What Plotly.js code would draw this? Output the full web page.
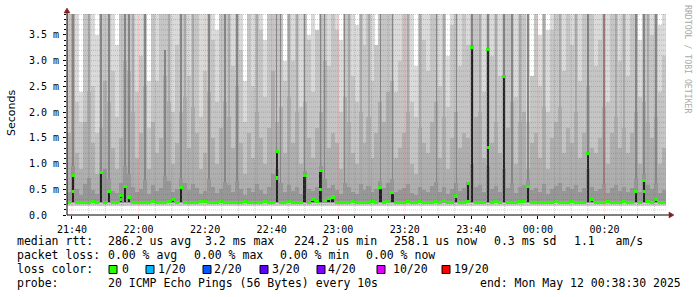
<!DOCTYPE html>
<html><head><meta charset="utf-8">
<script src="https://cdn.plot.ly/plotly-3.0.1.min.js"></script>
<style>html,body{margin:0;padding:0;background:#fff;}#chart{width:697px;height:297px;}</style>
</head><body><div id="chart"></div>
<script>
// ---- data (RTT values in ms, 150 bins of 72 s from 21:38:30 to 00:38:30) ----
const START = Date.UTC(2025,4,11,21,38,30);
const END = Date.UTC(2025,4,12,0,38,30);
const STEP = 72000;
const F = 4.0; // smoke beyond top of graph

const medianRtt = [
0.25,0.76,0.25,0.24,0.25,0.25,0.26,0.25,0.82,0.25,
0.45,0.25,0.24,0.38,0.55,0.35,0.25,0.25,0.24,0.25,
0.25,0.26,0.25,0.24,0.25,0.26,0.30,0.25,0.53,0.25,
0.25,0.24,0.25,0.26,0.27,0.25,0.24,0.25,0.26,0.25,
0.25,0.24,0.25,0.25,0.26,0.25,0.24,0.25,0.25,0.26,
0.25,0.24,1.23,0.25,0.25,0.26,0.25,0.24,0.25,0.77,
0.25,0.30,0.26,0.86,0.28,0.32,0.35,0.25,0.25,0.24,
0.25,0.26,0.25,0.25,0.24,0.25,0.26,0.25,0.53,0.25,
0.26,0.43,0.25,0.24,0.25,0.27,0.25,0.24,0.26,0.25,
0.25,0.24,0.26,0.25,0.28,0.25,0.24,0.37,0.25,0.25,
0.26,3.25,0.25,0.24,0.25,3.21,0.25,0.26,0.25,2.70,
0.25,0.24,0.25,0.26,0.27,0.55,0.25,0.24,0.25,0.25,
0.24,0.25,0.26,0.25,0.24,0.25,0.26,0.25,0.25,0.24,
1.19,0.30,0.25,0.24,0.25,0.26,0.25,0.24,0.25,0.26,
0.25,0.24,0.45,0.25,0.67,0.26,0.25,0.30,0.24,0.25];

const altIdx = [1, 13, 52, 63, 100, 105, 144];
const altVal = [0.45, 0.30, 0.72, 0.50, 0.62, 1.31, 0.45];

const smokeTop = [
F,F,F,2.4,F,F,F,3.5,F,F,
F,F,3.3,F,F,F,F,F,F,F,
2.6,F,F,F,F,F,F,F,F,F,
F,F,F,F,F,F,F,3.6,F,F,
F,F,F,F,2.6,F,F,F,F,3.4,
F,F,F,F,3.0,F,F,F,F,F,
3.5,F,3.6,F,F,F,F,F,3.4,F,
F,F,3.7,F,F,F,F,3.3,F,F,
F,F,F,F,F,F,F,2.9,F,F,
F,F,F,F,F,3.1,F,F,F,F,
F,F,F,F,F,F,F,F,F,F,
F,F,F,F,F,F,2.7,F,3.5,F,
3.6,F,F,F,F,F,F,F,F,F,
F,F,F,F,F,F,F,F,F,F,
F,F,F,3.4,F,F,F,F,3.7,F];

const smokeUpper = [
3.9,3.0,2.2,1.8,3.9,3.9,2.5,1.6,3.9,3.9,
3.9,2.8,1.9,3.9,3.9,3.9,3.9,2.4,3.1,3.9,
1.7,3.9,2.6,3.9,3.9,3.9,2.0,3.3,3.9,3.9,
2.7,3.9,3.9,1.9,2.8,3.9,3.4,2.2,3.9,3.9,
3.9,2.9,3.9,3.2,1.8,3.9,2.5,3.9,3.6,2.3,
3.9,3.9,3.9,3.9,2.6,3.9,3.0,3.9,2.1,3.9,
3.4,2.4,3.9,3.9,3.9,2.9,3.9,3.6,2.0,3.9,
3.9,2.7,2.2,3.9,3.3,3.9,2.6,3.9,3.9,3.9,
3.9,3.9,2.4,3.0,3.9,3.9,2.2,1.9,3.9,3.4,
2.8,3.9,3.9,2.5,3.9,2.1,3.7,3.9,2.9,3.9,
3.3,3.9,3.9,3.9,2.4,3.9,3.1,3.9,2.7,3.9,
3.9,3.9,2.3,3.9,3.9,1.8,3.2,3.9,2.5,3.9,
2.0,3.6,3.9,3.9,2.8,3.9,3.3,3.9,2.6,3.9,
3.9,3.9,2.9,3.4,3.9,2.2,3.9,3.9,3.0,3.9,
2.7,3.9,3.9,2.3,3.9,3.9,3.5,3.9,2.4,3.1];

const smokeLower = [
1.6,3.9,1.2,0.9,1.8,2.4,1.4,0.8,1.7,2.6,
2.2,1.3,0.9,1.5,3.0,2.8,2.0,1.1,1.6,2.5,
0.9,1.8,1.2,1.5,2.7,2.2,1.0,1.4,2.0,2.3,
1.3,2.1,1.6,0.9,1.2,2.4,1.5,1.0,1.7,2.2,
1.9,1.3,2.5,1.4,0.8,1.6,1.1,2.0,1.5,1.0,
1.7,2.8,1.8,2.1,1.2,2.3,1.4,2.0,1.0,2.2,
1.5,1.1,1.7,2.0,3.0,1.3,1.6,1.4,0.9,2.3,
1.8,1.2,1.0,2.0,1.4,1.9,1.1,1.6,2.2,1.8,
2.4,2.6,1.1,1.3,1.6,2.0,1.0,0.8,1.7,1.4,
1.2,1.8,2.2,1.1,1.9,0.9,1.5,2.0,1.3,1.6,
1.5,3.3,1.9,2.0,1.1,3.2,1.4,1.8,1.2,2.7,
1.7,2.2,1.0,1.8,2.0,0.9,1.4,1.6,1.1,2.1,
0.9,1.5,1.8,2.1,1.2,1.7,1.4,2.0,1.1,1.6,
2.5,1.3,1.2,1.5,2.1,1.0,1.6,1.9,1.3,1.7,
1.2,1.6,2.0,1.0,2.2,1.8,1.5,1.9,1.0,1.3];

const smokeCore = [
0.45,0.95,0.50,0.38,0.60,0.72,0.48,0.40,0.85,0.90,
0.70,0.46,0.42,0.62,0.95,0.80,0.55,0.44,0.50,0.68,
0.40,0.58,0.47,0.52,0.75,0.66,0.45,0.50,0.70,0.62,
0.48,0.60,0.52,0.40,0.46,0.70,0.55,0.42,0.50,0.64,
0.58,0.45,0.66,0.50,0.38,0.52,0.44,0.60,0.48,0.40,
0.55,0.80,0.90,0.62,0.45,0.58,0.47,0.55,0.40,0.85,
0.50,0.46,0.55,0.95,0.70,0.52,0.58,0.48,0.40,0.62,
0.55,0.45,0.40,0.60,0.48,0.56,0.44,0.50,0.66,0.52,
0.62,0.70,0.44,0.48,0.52,0.60,0.42,0.38,0.55,0.48,
0.45,0.56,0.64,0.44,0.55,0.40,0.50,0.62,0.46,0.52,
0.65,1.00,0.55,0.58,0.44,0.95,0.50,0.56,0.45,0.90,
0.52,0.62,0.42,0.54,0.58,0.68,0.48,0.52,0.44,0.60,
0.40,0.50,0.56,0.62,0.46,0.54,0.50,0.58,0.44,0.52,
0.90,0.55,0.46,0.50,0.60,0.42,0.52,0.58,0.46,0.54,
0.45,0.52,0.70,0.44,0.80,0.58,0.50,0.62,0.42,0.48];

const darkStreakIdx = [1,8,10,14,15,19,24,28,35,39,42,52,53,59,63,64,69,78,81,92,97,101,105,109,111,115,130,134,142,144,147];
const darkStreakTop = [F,F,F,F,F,F,3.2,F,F,F,F,F,F,F,F,F,F,F,F,F,F,F,F,F,F,F,F,F,F,F,F];
const medStreakIdx = [5,16,25,29,31,40,47,55,57,70,73,75,85,88,94,103,107,113,119,123,127,137,139,145];
const medStreakTop = [F,F,F,F,F,F,F,F,F,F,F,F,F,F,F,F,F,F,F,F,F,F,F,F];
const minRtt = 0.17;

const yTickVals = [0,0.5,1.0,1.5,2.0,2.5,3.0,3.5];
const yTickText = ['0.0\u00a0\u00a0','0.5 m','1.0 m','1.5 m','2.0 m','2.5 m','3.0 m','3.5 m'];

const rttStats = ['286.2 us avg','3.2 ms max','224.2 us min','258.1 us now','0.3 ms sd','1.1   am/s'];
const lossStats = ['0.00 % avg','0.00 % max','0.00 % min','0.00 % now'];
const lossLabels = ['0','1/20','2/20','3/20','4/20','10/20','19/20'];
const lossColors = ['#26ff00','#00b8ff','#0059ff','#5e00ff','#7e00ff','#dd00ff','#ff0000'];
const probeText = '20 ICMP Echo Pings (56 Bytes) every 10s';
const endText = 'end: Mon May 12 00:38:30 2025';

// ---- build ----
const xs = medianRtt.map((_, i) => START + (i + 0.5) * STEP);
const traces = [];
function layer(idx, base, tops, color, width) {
  traces.push({type:'bar', x: idx.map(i => xs[i]), base: idx.map(() => base),
    y: tops.map(t => Math.max(0, t - base)), width: width,
    marker:{color: color, line:{width:0}}, hoverinfo:'skip', showlegend:false});
}
const all = medianRtt.map((_, i) => i);
layer(all, minRtt, smokeTop, '#dadada', STEP + 400);
layer(all, minRtt, all.map(i => Math.min(smokeUpper[i], smokeTop[i])), '#c5c5c5', STEP + 400);
layer(all, minRtt, all.map(i => Math.min(smokeLower[i], smokeTop[i])), '#afafaf', STEP + 400);
layer(medStreakIdx, 0.22, medStreakTop, '#a9a9a9', 36000);
layer(darkStreakIdx, 0.22, darkStreakTop, '#868686', 30000);
layer(all, 0.22, smokeCore, '#979797', STEP + 400);
layer(all, minRtt, all.map(() => 0.23), '#cdcdcd', STEP + 400);

// black columns below spikes
const blackIdx = [], blackTop = [];
all.forEach(i => {
  let t = medianRtt[i];
  const k = altIdx.indexOf(i);
  if (k >= 0) t = Math.max(t, altVal[k]);
  if (t > 0.29) { blackIdx.push(i); blackTop.push(t); }
});
layer(blackIdx, 0.25, blackTop, '#222222', 40000);

// green median marks
traces.push({type:'bar', x: xs, base: medianRtt.map(v => v - 0.03), y: medianRtt.map(() => 0.06),
  width: STEP + 400, marker:{color:'#26ff00', line:{width:0}}, hoverinfo:'skip', showlegend:false});
traces.push({type:'bar', x: altIdx.map(i => xs[i]), base: altVal.map(v => v - 0.03), y: altVal.map(() => 0.06),
  width: 40000, marker:{color:'#26ff00', line:{width:0}}, hoverinfo:'skip', showlegend:false});

// ---- layout helpers ----
const L = 67, R = 666, T = 14, B = 215, W = 697, H = 297;
const px = x => (x - L) / (R - L);
const py = y => (B - y) / (B - T);
const YMAX = 3.908;
const MAJ_H = 'rgba(255,40,40,0.32)', MAJ_V = 'rgba(255,40,40,0.2)', MIN = 'rgba(110,110,110,0.33)';
const shapes = [];
for (let k = 1; k * 0.1 < YMAX; k++) {
  const v = k / 10;
  const major = k % 5 === 0;
  shapes.push({type:'line', xref:'paper', yref:'y', x0:0, x1:1, y0:v, y1:v, layer:'above',
    line:{color: major ? MAJ_H : MIN, width:1, dash:'1px,1px'}});
}
const firstTick = Date.UTC(2025,4,11,21,40,0);
for (let t = firstTick; t < END; t += 300000) {
  const major = ((t - firstTick) % 1200000) === 0;
  shapes.push({type:'line', xref:'x', yref:'paper', x0:t, x1:t, y0:0, y1:1, layer:'above',
    line:{color: major ? MAJ_V : MIN, width:1, dash:'1px,1px'}});
}
shapes.push({type:'line', xref:'paper', yref:'paper', x0:px(67), x1:px(669), y0:0, y1:0, layer:'above', line:{color:'#000', width:1}});
shapes.push({type:'line', xref:'paper', yref:'paper', x0:0, x1:0, y0:0, y1:py(12), layer:'above', line:{color:'#000', width:1}});
shapes.push({type:'path', xref:'paper', yref:'paper', layer:'above',
  path:`M ${px(64)} ${py(13)} L ${px(67)} ${py(8)} L ${px(70)} ${py(13)} Z`, fillcolor:'#7f1f1f', line:{color:'#7f1f1f', width:0.5}});
shapes.push({type:'path', xref:'paper', yref:'paper', layer:'above',
  path:`M ${px(669)} ${py(212)} L ${px(674)} ${py(215)} L ${px(669)} ${py(218)} Z`, fillcolor:'#7f1f1f', line:{color:'#7f1f1f', width:0.5}});

const annotations = [];
const MONO = 'DejaVu Sans Mono';
function txt(s, x, y, size) {
  annotations.push({text: s.replace(/ /g, '\u00a0'), xref:'paper', yref:'paper', x: px(x), y: py(y),
    xanchor:'left', yanchor:'middle', showarrow:false, borderpad:0,
    font:{family: MONO, size: size, color:'#000'}});
}
const FS = 11.5;
txt('median rtt:', 16, 241, FS);
[107.3, 204, 293.3, 393.3, 493.3, 573.3].forEach((x, i) => txt(rttStats[i], x, 241, FS));
txt('packet loss:', 16, 255, FS);
[107.3, 193.3, 279.3, 365].forEach((x, i) => txt(lossStats[i], x, 255, FS));
txt('loss color:', 16, 269, FS);
const boxX = [109, 146, 203, 260, 317, 377, 442];
const labX = [121, 157, 213.3, 270.7, 327.3, 391.7, 453.3];
lossLabels.forEach((lab, i) => {
  shapes.push({type:'rect', xref:'paper', yref:'paper', x0:px(boxX[i]), x1:px(boxX[i] + 8), y0:py(273.5), y1:py(265.5),
    fillcolor: lossColors[i], line:{color:'#000', width:1}, layer:'above'});
  txt(lab, labX[i], 269, FS);
});
txt('probe:', 16, 283, FS);
txt(probeText, 107.3, 283, FS);
txt(endText, 479.3, 283, FS);
annotations.push({text:'Seconds', xref:'paper', yref:'paper', x: px(11), y: py(113), xanchor:'center', yanchor:'middle',
  textangle:-90, showarrow:false, font:{family:'DejaVu Sans', size:11, color:'#000'}});
annotations.push({text:'RRDTOOL / TOBI OETIKER', xref:'paper', yref:'paper', x: px(688), y: py(59), xanchor:'center', yanchor:'middle',
  textangle:90, showarrow:false, font:{family: MONO, size:8.2, color:'#aaaaaa'}});

const layout = {
  width: W, height: H, margin:{l:L, r:W - R, t:T, b:H - B, pad:0},
  paper_bgcolor:'#ffffff', plot_bgcolor:'#ffffff',
  barmode:'overlay', bargap:0, showlegend:false,
  xaxis:{type:'date', range:[START, END], tickmode:'linear', tick0:firstTick, dtick:1200000, tickformat:'%H:%M',
    showgrid:false, zeroline:false, showline:false, ticks:'outside', ticklen:3, tickcolor:'#000', ticklabelstandoff:2,
    tickfont:{family:MONO, size:10, color:'#000'}, fixedrange:true,
    minor:{dtick:300000, tick0:firstTick, ticks:'outside', ticklen:2, tickcolor:'#000', showgrid:false}},
  yaxis:{range:[0, YMAX], tickmode:'array', tickvals:yTickVals, ticktext:yTickText,
    showgrid:false, zeroline:false, showline:false, ticks:'outside', ticklen:3, tickcolor:'#000', ticklabelstandoff:2,
    tickfont:{family:MONO, size:10, color:'#000'}, fixedrange:true,
    minor:{dtick:0.1, tick0:0, ticks:'outside', ticklen:2, tickcolor:'#000', showgrid:false}},
  shapes: shapes, annotations: annotations
};
Plotly.newPlot('chart', traces, layout, {staticPlot:true, displayModeBar:false});
</script></body></html>
